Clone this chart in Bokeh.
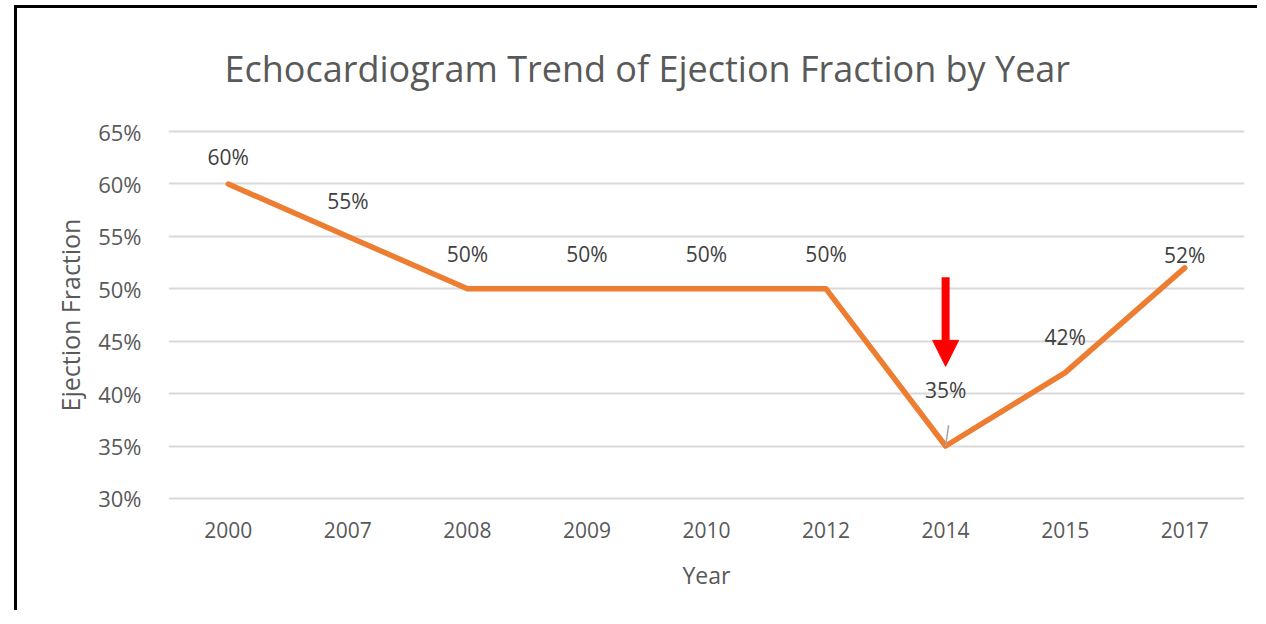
from bokeh.plotting import figure
from bokeh.models import FixedTicker, Arrow, NormalHead, ColumnDataSource
from bokeh.embed import file_html
from bokeh.resources import INLINE
from bokeh.core.properties import value

years = ["2000", "2007", "2008", "2009", "2010", "2012", "2014", "2015", "2017"]
ef = [60, 55, 50, 50, 50, 50, 35, 42, 52]
y_ticks = [30, 35, 40, 45, 50, 55, 60, 65]

# label pixel offsets above each point (style only)
label_offsets = [27, 35, 35, 35, 35, 35, 56, 36, 13]

xs = list(range(len(years)))
FONT = "Open Sans"
GREY = "#595959"

p = figure(width=1243, height=605, output_backend="svg", toolbar_location=None,
           x_range=(-0.5, len(years) - 0.5), y_range=(29.8, 65.2),
           min_border_left=151, min_border_top=105, min_border_right=16, min_border_bottom=113)
p.margin = (5, 0, 0, 14)
p.styles = {"border-left": "3px solid black", "border-top": "3px solid black"}
p.outline_line_color = None
p.background_fill_color = "white"
p.border_fill_color = "white"

p.xaxis.ticker = FixedTicker(ticks=xs)
p.xaxis.major_label_overrides = {i: y for i, y in zip(xs, years)}
p.yaxis.ticker = FixedTicker(ticks=y_ticks)
p.yaxis.major_label_overrides = {t: f"{t}%" for t in y_ticks}
for ax in (p.xaxis, p.yaxis):
    ax.axis_line_color = None
    ax.major_tick_line_color = None
    ax.minor_tick_line_color = None
    ax.major_label_text_font = FONT
    ax.major_label_text_color = GREY
    ax.axis_label_text_font = FONT
    ax.axis_label_text_color = GREY
    ax.axis_label_text_font_style = "normal"
p.xaxis.major_label_text_font_size = "21px"
p.yaxis.major_label_text_font_size = "22px"
p.xaxis.axis_label_text_font_size = "23px"
p.yaxis.axis_label_text_font_size = "25px"
p.xaxis.major_label_standoff = 15
p.yaxis.major_label_standoff = 21
p.xaxis.axis_label = "Year"
p.xaxis.axis_label_standoff = 18
p.yaxis.axis_label = "Ejection Fraction"
p.yaxis.axis_label_standoff = 8
p.xgrid.grid_line_color = None
p.ygrid.grid_line_color = "#d9d9d9"
p.ygrid.grid_line_width = 2

src = ColumnDataSource(dict(x=xs, y=ef, lab=[f"{v}%" for v in ef], off=[-o for o in label_offsets]))
p.line("x", "y", source=src, line_color="#ED7D31", line_width=5.5, line_join="round", line_cap="round")
p.text("x", "y", text="lab", source=src, y_offset="off", text_align="center", text_baseline="middle",
       text_font=value(FONT), text_font_size="21px", text_color="#404040")

# leader line for the 2014 label
i14 = years.index("2014")
p.segment(x0=[xs[i14] + 0.025], y0=[ef[i14] + 2.0], x1=[xs[i14]], y1=[ef[i14]],
          line_color="#a6a6a6", line_width=1.5)

# red arrow pointing to the 2014 drop
p.add_layout(Arrow(end=NormalHead(size=26, fill_color="#ff0000", line_color="#ff0000"),
                   x_start=xs[i14], y_start=ef[i14] + 16.1, x_end=xs[i14], y_end=ef[i14] + 7.6,
                   line_color="#ff0000", line_width=8))

p.title.text = "Echocardiogram Trend of Ejection Fraction by Year"
p.title.align = "left"
p.title.vertical_align = "top"
p.title.text_font = FONT
p.title.text_font_size = "36px"
p.title.text_font_style = "normal"
p.title.text_color = GREY
p.title.offset = 56
p.title.standoff = 70

open("out.html", "w").write(file_html(p, INLINE))
